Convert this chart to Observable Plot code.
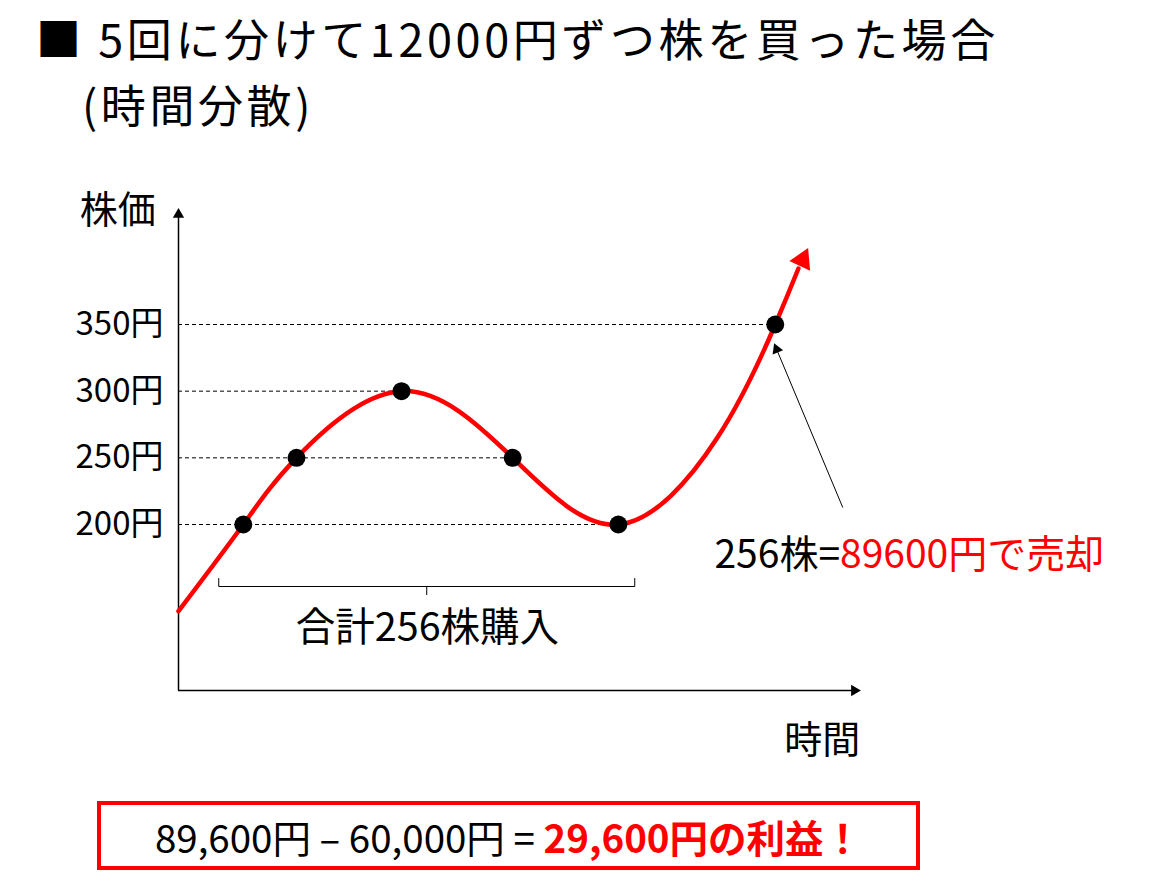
<!DOCTYPE html>
<html lang="ja">
<head>
<meta charset="utf-8">
<script src="https://cdn.jsdelivr.net/npm/d3@7"></script>
<script src="https://cdn.jsdelivr.net/npm/@observablehq/plot@0.6"></script>
<style>
  html, body { margin: 0; padding: 0; background: #fff; }
  body { width: 1156px; height: 886px; position: relative; overflow: hidden;
         font-family: "Noto Sans CJK JP", "Noto Sans", sans-serif; color: #000; }
  .title { position: absolute; font-size: 45px; line-height: 45px; letter-spacing: 3.6px; white-space: nowrap; }
  #t1 { left: 36px; top: 15px; }
  #t2 { left: 82px; top: 81px; }
  #chart { position: absolute; left: 0; top: 160px; }
  #box { position: absolute; left: 97px; top: 801px; width: 815px; height: 61px;
         border: 4px solid #ff0000; display: flex; align-items: center; justify-content: center;
         font-size: 38.5px; white-space: nowrap; }
  #box .red { color: #ff0000; font-weight: bold; }
</style>
</head>
<body>
<div class="title" id="t1">■&nbsp;5回に分けて12000円ずつ株を買った場合</div>
<div class="title" id="t2">(時間分散)</div>
<div id="chart"></div>
<div id="box"><span>89,600円 – 60,000円 =&nbsp;</span><span class="red">29,600円の利益！</span></div>
<script>
// ---- data ----
// price curve (time 0..100, price in 円)
const curveTime  = [0, 9.5, 17.3, 32.7, 49.0, 64.5, 79.0, 87.5, 90.9];
const curvePrice = [135, 200, 250, 300, 250, 200, 265, 350, 392];
// five purchases
const buyTime  = [9.5, 17.3, 32.7, 49.0, 64.5];
const buyPrice = [200, 250, 300, 250, 200];
// sale
const sellTime  = [87.5];
const sellPrice = [350];
// y tick values and label suffix
const yTicks = [200, 250, 300, 350];
const yUnit = "円";
// axis extents
const axisTime  = [0, 99.1];
const axisPrice = [75.5, 432.5];
// curve arrow head (time, price, angle)
const curveHead = [{t: 91.5, p: 398.4, a: 25}];
// callout arrow (tail -> head)
const callout = [{t1: 97.4, p1: 212.75, t2: 87.7, p2: 331.4, a: -22.5}];
// purchase bracket
const bracketTime  = [5.9, 5.9, 66.9, 66.9];
const bracketPrice = [159.5, 153.5, 153.5, 159.5];
const bracketMid   = [{t: 36.4, p1: 153.5, p2: 146.75}];
// labels
const labels = [
  {text: "株価", t: -8.9, p: 435.5, color: "#000", anchor: "middle", size: 38},
  {text: "時間", t: 94.4, p: 38, color: "#000", anchor: "middle", size: 38},
  {text: "合計256株購入", t: 36.5, p: 122, color: "#000", anchor: "middle", size: 39.5},
  {text: "256株=", t: 97.0, p: 176.75, color: "#000", anchor: "end", size: 39},
  {text: "89600円で売却", t: 97.0, p: 176.75, color: "#ff0000", anchor: "start", size: 39}
];

// ---- build tables ----
const curve = curveTime.map((t, i) => ({t, p: curvePrice[i]}));
const buys = buyTime.map((t, i) => ({t, p: buyPrice[i]}));
const sells = sellTime.map((t, i) => ({t, p: sellPrice[i]}));
const allPts = buys.concat(sells);
const guides = Array.from(d3.rollup(allPts, v => d3.max(v, d => d.t), d => d.p), ([p, t]) => ({p, t}));
const bracket = bracketTime.map((t, i) => ({t, p: bracketPrice[i]}));

const fontStack = '"Noto Sans CJK JP", "Noto Sans", sans-serif';
const chartTop = 160;

const chart = Plot.plot({
  width: 1156,
  height: 630,
  marginLeft: 178,
  marginRight: 296,
  marginTop: 0,
  marginBottom: 0,
  style: {fontFamily: fontStack, fontSize: "33px", color: "#000", background: "transparent", overflow: "visible"},
  x: {domain: [0, 100], range: [178, 860], axis: null},
  y: {domain: [200, 350], range: [524 - chartTop, 324 - chartTop], axis: null},
  marks: [
    // dashed guide lines
    Plot.ruleY(guides, {y: "p", x1: 0, x2: "t", stroke: "#000", strokeWidth: 1, strokeDasharray: "4,3"}),
    // axes
    Plot.ruleX([axisTime[0]], {y1: axisPrice[0], y2: axisPrice[1], stroke: "#000", strokeWidth: 1.5}),
    Plot.ruleY([axisPrice[0]], {x1: axisTime[0], x2: axisTime[1], stroke: "#000", strokeWidth: 1.5}),
    Plot.dot([{t: axisTime[0], p: axisPrice[1]}], {x: "t", y: "p", symbol: "triangle", r: 4.2, fill: "#000", stroke: null}),
    Plot.dot([{t: axisTime[1], p: axisPrice[0]}], {x: "t", y: "p", symbol: "triangle", r: 4.2, fill: "#000", stroke: null, rotate: 90}),
    Plot.axisY({ticks: yTicks, tickFormat: d => d + yUnit, tickSize: 0, tickPadding: 15, anchor: "left", fontSize: 33, label: null}),
    // price curve
    Plot.line(curve, {x: "t", y: "p", curve: "natural", stroke: "#ff0000", strokeWidth: 4.5}),
    Plot.dot(curveHead, {x: "t", y: "p", symbol: "triangle", r: 8.5, fill: "#ff0000", stroke: null, rotate: "a"}),
    // purchase + sale points
    Plot.dot(allPts, {x: "t", y: "p", r: 9, fill: "#000", stroke: null}),
    // callout arrow
    Plot.link(callout, {x1: "t1", y1: "p1", x2: "t2", y2: "p2", stroke: "#000", strokeWidth: 1}),
    Plot.dot(callout, {x: "t2", y: "p2", symbol: "triangle", r: 4.2, fill: "#000", stroke: null, rotate: "a"}),
    // bracket
    Plot.line(bracket, {x: "t", y: "p", stroke: "#000", strokeWidth: 1}),
    Plot.ruleX(bracketMid, {x: "t", y1: "p1", y2: "p2", stroke: "#000", strokeWidth: 1}),
    // labels
    Plot.text(labels.filter(d => d.anchor === "middle"), {x: "t", y: "p", text: "text", fill: "color", fontSize: "size", textAnchor: "middle"}),
    Plot.text(labels.filter(d => d.anchor === "end"), {x: "t", y: "p", text: "text", fill: "color", fontSize: "size", textAnchor: "end"}),
    Plot.text(labels.filter(d => d.anchor === "start"), {x: "t", y: "p", text: "text", fill: "color", fontSize: "size", textAnchor: "start"})
  ]
});
document.getElementById("chart").appendChild(chart);
</script>
</body>
</html>
